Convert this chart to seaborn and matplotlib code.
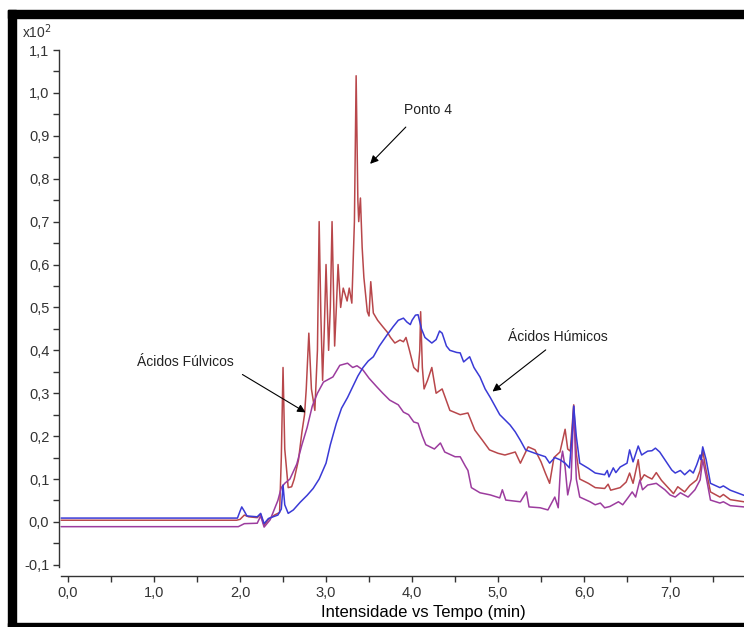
import numpy as np
import pandas as pd
import matplotlib
matplotlib.use("Agg")
import matplotlib.pyplot as plt
from matplotlib.patches import Rectangle
from matplotlib.ticker import MultipleLocator, FuncFormatter
import seaborn as sns

# ============================================================
# Data (intensity in x10^2)
# ============================================================

ponto4_t = [-0.08, 1.96, 2.00, 2.05, 2.10, 2.20, 2.24, 2.28, 2.33, 2.40, 2.46, 2.48,
            2.50, 2.52, 2.56, 2.60, 2.63, 2.68, 2.72, 2.75, 2.77, 2.80, 2.83, 2.87,
            2.90, 2.92, 2.94, 2.96, 2.98, 3.00, 3.03, 3.05, 3.07, 3.10, 3.12, 3.14,
            3.17, 3.20, 3.245, 3.27, 3.30, 3.33, 3.35, 3.37, 3.38, 3.40, 3.42, 3.44,
            3.48, 3.50, 3.52, 3.55, 3.60, 3.66, 3.71, 3.75, 3.80, 3.86, 3.90, 3.93,
            3.97, 4.02, 4.07, 4.09, 4.10, 4.12, 4.14, 4.18, 4.23, 4.28, 4.35, 4.44,
            4.56, 4.65, 4.73, 4.82, 4.90, 5.00, 5.08, 5.20, 5.26, 5.35, 5.43, 5.50,
            5.55, 5.60, 5.65, 5.72, 5.78, 5.81, 5.84, 5.88, 5.91, 5.95, 6.05, 6.13,
            6.24, 6.28, 6.31, 6.42, 6.49, 6.53, 6.57, 6.63, 6.66, 6.70, 6.74, 6.79,
            6.84, 6.90, 7.00, 7.04, 7.09, 7.17, 7.23, 7.31, 7.35, 7.38, 7.41, 7.47,
            7.58, 7.62, 7.70, 7.86]
ponto4_y = [0.004, 0.004, 0.006, 0.016, 0.012, 0.010, 0.018, -0.008, 0.006, 0.016, 0.022, 0.15,
            0.36, 0.17, 0.08, 0.082, 0.10, 0.145, 0.21, 0.25, 0.31, 0.44, 0.31, 0.26,
            0.40, 0.70, 0.48, 0.33, 0.45, 0.60, 0.40, 0.50, 0.70, 0.41, 0.50, 0.60,
            0.50, 0.545, 0.515, 0.545, 0.51, 0.70, 1.04, 0.75, 0.70, 0.755, 0.64, 0.57,
            0.49, 0.48, 0.56, 0.487, 0.47, 0.455, 0.443, 0.43, 0.417, 0.424, 0.42, 0.43,
            0.40, 0.36, 0.35, 0.40, 0.49, 0.36, 0.31, 0.33, 0.36, 0.30, 0.31, 0.26,
            0.25, 0.254, 0.214, 0.19, 0.168, 0.16, 0.156, 0.163, 0.137, 0.175, 0.168, 0.14,
            0.114, 0.09, 0.15, 0.163, 0.216, 0.17, 0.165, 0.273, 0.16, 0.10, 0.09, 0.08,
            0.078, 0.088, 0.074, 0.08, 0.093, 0.114, 0.09, 0.145, 0.097, 0.11, 0.105, 0.10,
            0.115, 0.097, 0.075, 0.066, 0.082, 0.07, 0.085, 0.098, 0.12, 0.168, 0.13, 0.07,
            0.058, 0.064, 0.052, 0.047]

humicos_t = [-0.08, 1.97, 2.00, 2.02, 2.05, 2.08, 2.20, 2.24, 2.28, 2.33, 2.44, 2.48,
             2.50, 2.52, 2.56, 2.62, 2.70, 2.78, 2.85, 2.92, 3.00, 3.05, 3.12, 3.18,
             3.25, 3.31, 3.37, 3.43, 3.49, 3.55, 3.62, 3.71, 3.78, 3.84, 3.90, 3.94,
             3.98, 4.00, 4.04, 4.07, 4.11, 4.15, 4.23, 4.28, 4.32, 4.35, 4.40, 4.44,
             4.52, 4.56, 4.60, 4.67, 4.72, 4.79, 4.85, 4.91, 5.02, 5.08, 5.14, 5.20,
             5.26, 5.32, 5.43, 5.55, 5.60, 5.66, 5.72, 5.78, 5.83, 5.86, 5.88, 5.91,
             5.95, 6.05, 6.13, 6.24, 6.27, 6.29, 6.34, 6.37, 6.42, 6.50, 6.53, 6.57,
             6.63, 6.67, 6.70, 6.74, 6.79, 6.83, 6.88, 6.94, 7.02, 7.06, 7.12, 7.17,
             7.23, 7.27, 7.31, 7.35, 7.36, 7.38, 7.42, 7.47, 7.58, 7.62, 7.70, 7.86]
humicos_y = [0.009, 0.009, 0.025, 0.035, 0.025, 0.014, 0.012, 0.02, -0.004, 0.008, 0.016, 0.03,
             0.086, 0.04, 0.02, 0.028, 0.046, 0.062, 0.078, 0.10, 0.137, 0.18, 0.23, 0.265,
             0.29, 0.315, 0.34, 0.36, 0.375, 0.385, 0.41, 0.436, 0.455, 0.47, 0.475, 0.466,
             0.46, 0.47, 0.482, 0.483, 0.45, 0.43, 0.417, 0.425, 0.445, 0.44, 0.41, 0.40,
             0.395, 0.394, 0.373, 0.385, 0.36, 0.338, 0.31, 0.29, 0.25, 0.238, 0.226, 0.21,
             0.19, 0.168, 0.16, 0.152, 0.137, 0.15, 0.145, 0.137, 0.126, 0.20, 0.27, 0.20,
             0.137, 0.125, 0.114, 0.11, 0.12, 0.105, 0.126, 0.115, 0.128, 0.137, 0.168, 0.14,
             0.177, 0.156, 0.16, 0.165, 0.166, 0.172, 0.163, 0.145, 0.121, 0.114, 0.12, 0.11,
             0.121, 0.114, 0.133, 0.156, 0.145, 0.175, 0.145, 0.09, 0.08, 0.084, 0.074, 0.062]

fulvicos_t = [-0.08, 1.98, 2.05, 2.20, 2.24, 2.28, 2.35, 2.44, 2.48, 2.52, 2.58, 2.66,
              2.72, 2.78, 2.84, 2.90, 2.97, 3.08, 3.16, 3.25, 3.31, 3.36, 3.43, 3.50,
              3.59, 3.66, 3.74, 3.84, 3.90, 3.96, 4.02, 4.07, 4.12, 4.16, 4.21, 4.26,
              4.33, 4.38, 4.50, 4.56, 4.62, 4.65, 4.69, 4.79, 4.91, 5.02, 5.05, 5.09,
              5.26, 5.33, 5.36, 5.49, 5.58, 5.66, 5.70, 5.73, 5.75, 5.78, 5.81, 5.85,
              5.88, 5.91, 5.95, 6.07, 6.13, 6.19, 6.24, 6.30, 6.40, 6.45, 6.51, 6.56,
              6.60, 6.65, 6.68, 6.74, 6.84, 6.94, 7.00, 7.06, 7.12, 7.21, 7.29, 7.35,
              7.38, 7.42, 7.47, 7.58, 7.62, 7.70, 7.86]
fulvicos_y = [-0.011, -0.011, -0.004, -0.003, 0.014, -0.012, 0.005, 0.05, 0.08, 0.09, 0.10, 0.135,
              0.18, 0.22, 0.27, 0.30, 0.326, 0.338, 0.365, 0.37, 0.36, 0.364, 0.354, 0.335,
              0.315, 0.30, 0.284, 0.273, 0.256, 0.25, 0.233, 0.23, 0.20, 0.18, 0.175, 0.17,
              0.184, 0.163, 0.152, 0.152, 0.13, 0.12, 0.08, 0.068, 0.063, 0.056, 0.075, 0.051,
              0.047, 0.07, 0.035, 0.033, 0.028, 0.058, 0.033, 0.14, 0.165, 0.128, 0.063, 0.10,
              0.27, 0.10, 0.058, 0.047, 0.04, 0.044, 0.033, 0.036, 0.047, 0.04, 0.056, 0.07,
              0.058, 0.098, 0.075, 0.086, 0.09, 0.075, 0.063, 0.058, 0.068, 0.058, 0.075, 0.098,
              0.145, 0.105, 0.051, 0.044, 0.047, 0.038, 0.035]

x_ticks = [0, 1, 2, 3, 4, 5, 6, 7]
y_ticks = [-0.1, 0.0, 0.1, 0.2, 0.3, 0.4, 0.5, 0.6, 0.7, 0.8, 0.9, 1.0, 1.1]

# ============================================================
# Plot
# ============================================================

sns.set_style("white")
plt.rcParams["font.family"] = ["Liberation Sans", "DejaVu Sans"]
plt.rcParams["axes.unicode_minus"] = False

fig = plt.figure(figsize=(7.44, 6.27), dpi=100)
ax = fig.add_axes([59 / 744, 51 / 627, 685 / 744, 526 / 627])

series = [
    (ponto4_t, ponto4_y, "#b8474b"),
    (fulvicos_t, fulvicos_y, "#9c3c9e"),
    (humicos_t, humicos_y, "#3a3ad6"),
]
for t, y, c in series:
    sns.lineplot(x=t, y=y, ax=ax, color=c, linewidth=1.1, sort=False)

ax.set_xlim(-0.105, 7.86)
ax.set_ylim(-0.126, 1.10)

# detached axes look of the original software
for side in ["top", "right"]:
    ax.spines[side].set_visible(False)
ax.spines["left"].set_bounds(-0.105, 1.1)
ax.spines["bottom"].set_bounds(-0.08, 7.86)
for side in ["left", "bottom"]:
    ax.spines[side].set_color("#333333")
    ax.spines[side].set_linewidth(1.0)

comma = FuncFormatter(lambda v, p: f"{v:.1f}".replace(".", ",").replace("-0,0", "0,0"))
ax.set_xticks(x_ticks)
ax.set_yticks(y_ticks)
ax.xaxis.set_major_formatter(comma)
ax.yaxis.set_major_formatter(comma)
ax.xaxis.set_minor_locator(MultipleLocator(0.5))
ax.yaxis.set_minor_locator(MultipleLocator(0.05))
ax.tick_params(which="both", direction="out", length=4, width=1, color="#333333",
               left=True, bottom=True)
ax.tick_params(axis="both", labelsize=10.5, labelcolor="#333333", pad=3)
ax.set_xlabel("")
ax.set_ylabel("")

fig.text(22 / 744, 1 - 38 / 627, "x10$^{2}$", fontsize=10, color="#333333")
fig.text(423 / 744, 1 - 617 / 627, "Intensidade vs Tempo (min)", fontsize=12,
         ha="center", va="baseline", color="black")

# annotations
arrow = dict(arrowstyle="-|>", color="black", lw=0.8, mutation_scale=12)
ax.text(4.19, 0.96, "Ponto 4", fontsize=10, ha="center", va="center", color="#222222")
ax.annotate("", xy=(3.49, 0.83), xytext=(3.95, 0.925), arrowprops=arrow)
ax.text(5.70, 0.43, "Ácidos Húmicos", fontsize=10, ha="center", va="center", color="#222222")
ax.annotate("", xy=(4.91, 0.30), xytext=(5.58, 0.405), arrowprops=arrow)
ax.text(1.36, 0.373, "Ácidos Fúlvicos", fontsize=10, ha="center", va="center", color="#222222")
ax.annotate("", xy=(2.79, 0.252), xytext=(2.0, 0.347), arrowprops=arrow)

# black frame of the screenshot
fig.patches.append(Rectangle((8 / 744, 0), 8 / 744, 617 / 627, transform=fig.transFigure,
                             color="black", zorder=10))
fig.patches.append(Rectangle((8 / 744, 609 / 627), 736 / 744, 8 / 627, transform=fig.transFigure,
                             color="black", zorder=10))
fig.patches.append(Rectangle((8 / 744, 0), 736 / 744, 4 / 627, transform=fig.transFigure,
                             color="black", zorder=10))

fig.savefig("out.png", dpi=100)
plt.close(fig)
